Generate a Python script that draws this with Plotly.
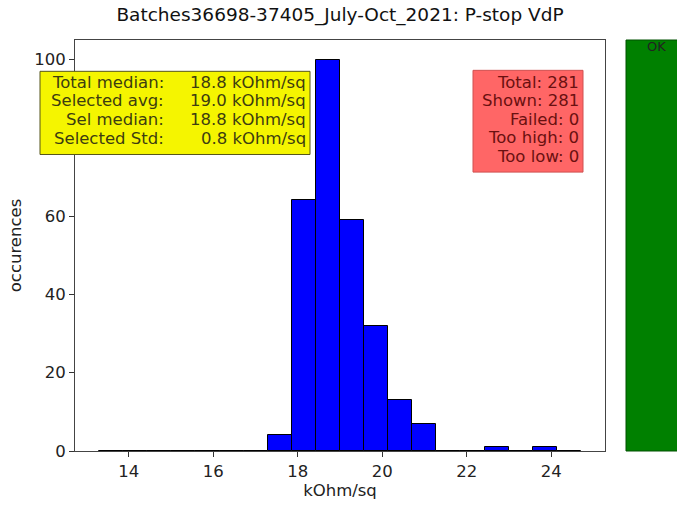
import plotly.graph_objects as go

# ---- data ----
hist_min = 13.3
hist_max = 24.7
counts = [0, 0, 0, 0, 0, 0, 0, 4, 64, 100, 59, 32, 13, 7, 0, 0, 1, 0, 1, 0]
x_ticks = [14, 16, 18, 20, 22, 24]
y_ticks = [0, 20, 40, 60, 100]  # the 80 label is hidden behind the stats box in the reference
title = "Batches36698-37405_July-Oct_2021: P-stop VdP"
stat_labels = ["Total median:", "Selected avg:", "Sel median:", "Selected Std:"]
stat_values = ["18.8 kOhm/sq", "19.0 kOhm/sq", "18.8 kOhm/sq", "0.8 kOhm/sq"]
count_lines = ["Total: 281", "Shown: 281", "Failed: 0", "Too high: 0", "Too low: 0"]
status = "OK"

n_bins = len(counts)
bw = (hist_max - hist_min) / n_bins
centers = [hist_min + bw * (i + 0.5) for i in range(n_bins)]
pad = 0.05 * (hist_max - hist_min)

W, H = 677, 506
L, R, T, B = 75, 72, 40, 46
pw, ph = W - L - R, H - T - B

def px(x):
    return (x - L) / pw

def py(y):
    return (H - B - y) / ph

FONT = "DejaVu Sans"
FS = 16.5
PITCH = 19.3

fig = go.Figure()
fig.add_trace(go.Bar(
    x=centers, y=counts, width=bw,
    marker=dict(color="#0000ff", line=dict(color="black", width=1)),
    showlegend=False, hoverinfo="skip",
))

shapes = [
    dict(type="rect", xref="paper", yref="paper", x0=px(40), x1=px(310), y0=py(157), y1=py(72),
         fillcolor="#f5f500", line=dict(color="#55551a", width=1), layer="above"),
    dict(type="rect", xref="paper", yref="paper", x0=px(473), x1=px(583), y0=py(175), y1=py(71),
         fillcolor="#ff6666", line=dict(color="#d05050", width=1), layer="above"),
    dict(type="rect", xref="paper", yref="paper", x0=px(626), x1=px(700), y0=py(460), y1=py(40),
         fillcolor="#008000", line=dict(color="#005000", width=1), layer="above"),
]

ann = []
for i, (lab, val) in enumerate(zip(stat_labels, stat_values)):
    yc = 83 + i * PITCH
    ann.append(dict(xref="paper", yref="paper", x=px(166), y=py(yc), xanchor="right", yanchor="middle",
                    text=lab, showarrow=False, font=dict(family=FONT, size=FS, color="#3d3d10")))
    ann.append(dict(xref="paper", yref="paper", x=px(308), y=py(yc), xanchor="right", yanchor="middle",
                    text=val, showarrow=False, font=dict(family=FONT, size=FS, color="#3d3d10")))
for i, line in enumerate(count_lines):
    yc = 83 + i * 19
    ann.append(dict(xref="paper", yref="paper", x=px(581), y=py(yc), xanchor="right", yanchor="middle",
                    text=line, showarrow=False, font=dict(family=FONT, size=FS, color="#6a1010")))
ann.append(dict(xref="paper", yref="paper", x=px(656), y=py(47), xanchor="center", yanchor="middle",
                text=status, showarrow=False, font=dict(family=FONT, size=13, color="#222")))

fig.update_layout(
    width=W, height=H,
    margin=dict(l=L, r=R, t=T, b=B),
    paper_bgcolor="white", plot_bgcolor="white",
    font=dict(family=FONT, size=FS, color="#222"),
    title=dict(text=title, x=(L + pw / 2) / W, xanchor="center", y=1 - 15 / H, yanchor="middle",
               yref="container", font=dict(family=FONT, size=18.5, color="#111")),
    bargap=0,
    shapes=shapes, annotations=ann,
    xaxis=dict(range=[hist_min - pad, hist_max + pad], tickvals=x_ticks, ticks="outside", ticklen=5,
               tickcolor="#333", showline=True, linecolor="#444", linewidth=1, mirror=True,
               showgrid=False, zeroline=False, tickfont=dict(size=FS),
               title=dict(text="kOhm/sq", standoff=2, font=dict(size=FS))),
    yaxis=dict(range=[0, 105], tickvals=y_ticks, ticks="outside", ticklen=5,
               tickcolor="#333", showline=True, linecolor="#444", linewidth=1, mirror=True,
               showgrid=False, zeroline=False, tickfont=dict(size=FS),
               title=dict(text="occurences", standoff=8, font=dict(size=FS))),
)

fig.write_html("out.html")
